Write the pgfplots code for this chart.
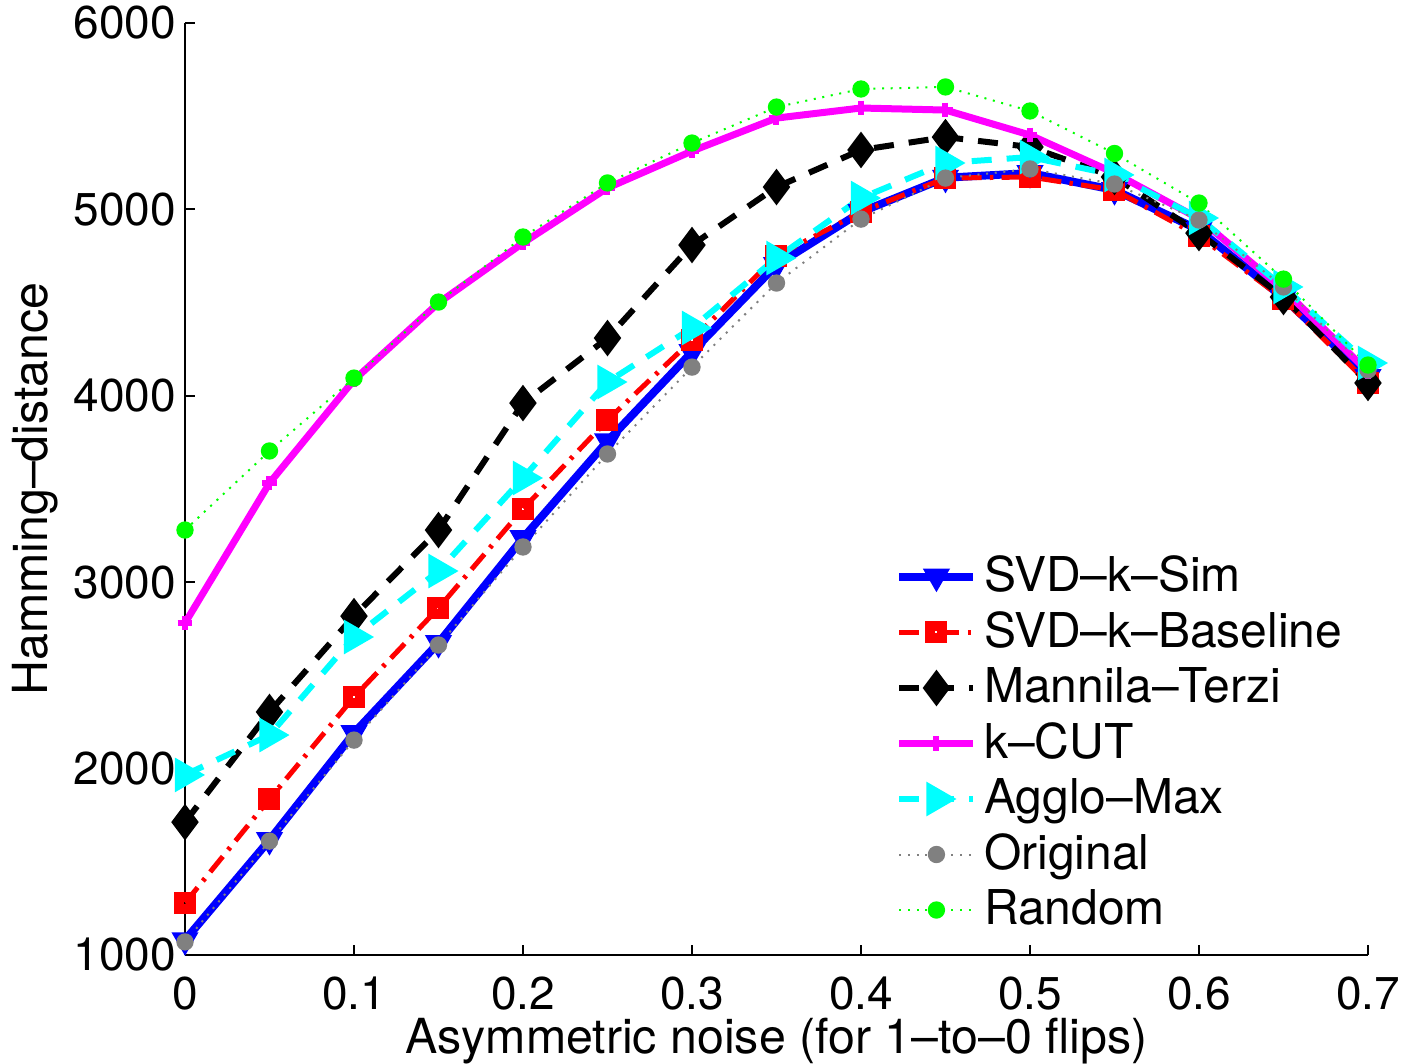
\documentclass[border=0pt]{standalone}
\usepackage{fontspec}
\setmainfont{TeX Gyre Heros}
\usepackage{pgfplots}
\pgfplotsset{compat=1.18}
\definecolor{mblue}{RGB}{0,0,255}
\definecolor{mred}{RGB}{255,0,0}
\definecolor{mmag}{RGB}{255,0,255}
\definecolor{mcyan}{RGB}{0,255,255}
\definecolor{mgray}{RGB}{128,128,128}
\definecolor{mgreen}{RGB}{0,255,0}
\begin{document}
\fontsize{13.5}{16}\selectfont
\begin{tikzpicture}
\begin{axis}[
  scale only axis,
  width=354.9pt, height=279.6pt,
  xmin=0, xmax=0.7, ymin=1000, ymax=6000,
  xtick={0,0.1,...,0.7},
  xticklabels={0,0.1,0.2,0.3,0.4,0.5,0.6,0.7},
  ytick={1000,2000,3000,4000,5000,6000},
  yticklabels={1000,2000,3000,4000,5000,6000},
  axis x line*=bottom, axis y line*=left,
  axis line style={-, line width=0.6pt},
  tick align=inside, major tick length=3pt,
  tick style={black, line width=0.6pt},
  /pgf/number format/assume math mode=true,
  ticklabel style={font=\fontsize{13.8}{16}\selectfont},
  xticklabel style={inner sep=0.5pt, yshift=-6pt},
  yticklabel style={xshift=2pt},
  xlabel={Asymmetric noise (for 1--to--0 flips)},
  ylabel={Hamming--distance},
  every axis x label/.style={at={(axis description cs:0.5,-0.092)}, anchor=center, inner sep=0pt, font=\fontsize{14.5}{17}\selectfont},
  every axis y label/.style={at={(axis description cs:-0.127,0.5)}, rotate=90, anchor=center, font=\fontsize{14.5}{17}\selectfont},
  legend style={at={(axis description cs:0.6,0.018)}, anchor=south west, draw=none, fill=none,
    font=\fontsize{14.4}{17}\selectfont, row sep=0pt, inner sep=0pt},
  legend cell align=left,
  legend image code/.code={\draw[mark repeat=2,mark phase=2] plot coordinates {(0cm,0cm) (0.39cm,0cm) (0.78cm,0cm)};},
]
\addplot[mblue, line width=2.4pt, mark=triangle*, mark size=4.2pt, mark options={solid, rotate=180, fill=mblue, line width=0.5pt}]
coordinates {(0,1080) (0.05,1617) (0.1,2191) (0.15,2674) (0.2,3237) (0.25,3757) (0.3,4235) (0.35,4702) (0.4,4986) (0.45,5170) (0.5,5195) (0.55,5104) (0.6,4890) (0.65,4525) (0.7,4101)};
\addlegendentry{SVD--k--Sim}
\addplot[mred, line width=1.5pt, dash pattern=on 6pt off 2.5pt on 1pt off 2.5pt, mark=square, mark size=1.8pt, mark options={solid, line width=3pt}]
coordinates {(0,1279) (0.05,1837) (0.1,2384) (0.15,2861) (0.2,3393) (0.25,3870) (0.3,4299) (0.35,4750) (0.4,4986) (0.45,5168) (0.5,5174) (0.55,5104) (0.6,4857) (0.65,4519) (0.7,4069)};
\addlegendentry{SVD--k--Baseline}
\addplot[black, line width=1.8pt, dash pattern=on 6pt off 4.5pt, mark=diamond*, mark size=4pt, mark options={solid, fill=black}]
coordinates {(0,1713) (0.05,2304) (0.1,2818) (0.15,3280) (0.2,3961) (0.25,4310) (0.3,4809) (0.35,5120) (0.4,5319) (0.45,5388) (0.5,5335) (0.55,5174) (0.6,4873) (0.65,4530) (0.7,4069)};
\addlegendentry{Mannila--Terzi}
\addplot[mmag, line width=2.1pt, mark=+, mark size=2.2pt, mark options={solid, line width=1.8pt}]
coordinates {(0,2781) (0.05,3532) (0.1,4085) (0.15,4498) (0.2,4820) (0.25,5115) (0.3,5313) (0.35,5490) (0.4,5544) (0.45,5533) (0.5,5399) (0.55,5195) (0.6,4950) (0.65,4570) (0.7,4130)};
\addlegendentry{k--CUT}
\addplot[mcyan, line width=1.8pt, dash pattern=on 6pt off 4.5pt, mark=triangle*, mark size=4.2pt, mark options={solid, rotate=-90, fill=mcyan}]
coordinates {(0,1966) (0.05,2180) (0.1,2706) (0.15,3060) (0.2,3559) (0.25,4074) (0.3,4364) (0.35,4739) (0.4,5061) (0.45,5249) (0.5,5281) (0.55,5185) (0.6,4954) (0.65,4584) (0.7,4176)};
\addlegendentry{Agglo--Max}
\addplot[mgray, line width=0.6pt, dash pattern=on 0.6pt off 2pt, mark=*, mark size=2.3pt, mark options={solid, fill=mgray}]
coordinates {(0,1070) (0.05,1611) (0.1,2153) (0.15,2663) (0.2,3189) (0.25,3688) (0.3,4154) (0.35,4605) (0.4,4948) (0.45,5168) (0.5,5217) (0.55,5136) (0.6,4943) (0.65,4584) (0.7,4138)};
\addlegendentry{Original}
\addplot[mgreen, line width=0.6pt, dash pattern=on 0.6pt off 2pt, mark=*, mark size=2.3pt, mark options={solid, fill=mgreen}]
coordinates {(0,3280) (0.05,3704) (0.1,4095) (0.15,4503) (0.2,4852) (0.25,5142) (0.3,5356) (0.35,5549) (0.4,5646) (0.45,5657) (0.5,5528) (0.55,5300) (0.6,5034) (0.65,4626) (0.7,4165)};
\addlegendentry{Random}
\end{axis}
\pgfresetboundingbox
\path (-55.5pt,-32.4pt) rectangle (369.6pt,286.5pt);
\end{tikzpicture}
\end{document}
